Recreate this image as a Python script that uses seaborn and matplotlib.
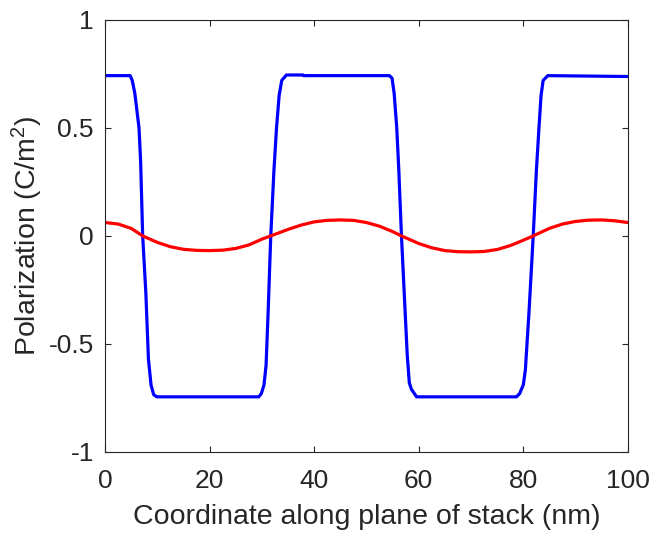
import matplotlib
matplotlib.use("Agg")
import matplotlib.pyplot as plt
import seaborn as sns
import pandas as pd

# Blue curve: polarization of the ferroelectric layer (C/m^2) along the stack
x_fe = [0, 4.8, 5.2, 5.7, 6.5, 6.8, 7.2, 7.8, 8.3, 8.8, 9.3, 9.9,
        29.4, 29.9, 30.4, 30.8, 31.2, 31.7, 32.3, 32.8, 33.3, 33.8, 34.7,
        37.9, 38.0,
        54.4, 54.9, 55.3, 55.8, 56.2, 56.7, 57.3, 57.8, 58.2, 58.6, 59.6,
        78.7, 79.3, 80.0, 80.4, 81.1, 81.9, 82.5, 83.0, 83.4, 83.8, 84.7,
        100]
p_fe = [0.742, 0.742, 0.72, 0.66, 0.50, 0.35, 0.0, -0.26, -0.57, -0.69, -0.735, -0.745,
        -0.745, -0.73, -0.69, -0.60, -0.35, 0.0, 0.30, 0.50, 0.65, 0.72, 0.745,
        0.745, 0.742,
        0.742, 0.73, 0.66, 0.50, 0.30, 0.0, -0.30, -0.55, -0.68, -0.71, -0.745,
        -0.745, -0.73, -0.69, -0.62, -0.35, 0.0, 0.30, 0.50, 0.65, 0.72, 0.742,
        0.738]

# Red curve: polarization of the dielectric layer (C/m^2)
x_de = [0, 2.5, 5, 7.2, 10, 12.5, 15, 17.5, 20, 22.5, 25, 27.5, 30, 31.7,
        35, 37.5, 40, 42.5, 45, 47.5, 50, 52.5, 55, 56.7, 60, 62.5, 65,
        67.5, 70, 72.5, 75, 77.5, 80, 81.9, 85, 87.5, 90, 92.5, 95, 97.5, 100]
p_de = [0.062, 0.055, 0.035, 0.0, -0.03, -0.05, -0.062, -0.067, -0.068, -0.066,
        -0.058, -0.042, -0.015, 0.0, 0.03, 0.05, 0.065, 0.072, 0.074, 0.072,
        0.062, 0.045, 0.02, 0.0, -0.035, -0.055, -0.068, -0.073, -0.074, -0.072,
        -0.063, -0.045, -0.02, 0.0, 0.035, 0.055, 0.067, 0.073, 0.074, 0.07, 0.062]

x_ticks = [0, 20, 40, 60, 80, 100]
x_tick_labels = ["0", "20", "40", "60", "80", "100"]
y_ticks = [-1, -0.5, 0, 0.5, 1]
y_tick_labels = ["-1", "-0.5", "0", "0.5", "1"]

sns.set_style("ticks")
plt.rcParams["font.family"] = ["Liberation Sans", "DejaVu Sans"]
plt.rcParams["mathtext.fontset"] = "custom"
plt.rcParams["mathtext.rm"] = "Liberation Sans"
plt.rcParams["mathtext.it"] = "Liberation Sans"
plt.rcParams["axes.unicode_minus"] = False

text_color = "#262626"

fig = plt.figure(figsize=(6.54, 5.38), dpi=100)
ax = fig.add_axes([0.1606, 0.160, 0.7994, 0.803])

df_fe = pd.DataFrame({"x": x_fe, "p": p_fe})
df_de = pd.DataFrame({"x": x_de, "p": p_de})
sns.lineplot(data=df_fe, x="x", y="p", ax=ax, color="#0000ff", linewidth=2.3,
             sort=False, estimator=None)
sns.lineplot(data=df_de, x="x", y="p", ax=ax, color="#ff0000", linewidth=2.3,
             sort=False, estimator=None)

ax.set_xlim(0, 100)
ax.set_ylim(-1, 1)
ax.set_xticks(x_ticks)
ax.set_xticklabels(x_tick_labels)
ax.set_yticks(y_ticks)
ax.set_yticklabels(y_tick_labels)
ax.tick_params(direction="in", top=True, right=True, length=4, width=0.8,
               labelsize=19, colors=text_color)
ax.tick_params(axis="x", pad=12)
ax.tick_params(axis="y", pad=8)
for s in ax.spines.values():
    s.set_visible(True)
    s.set_color(text_color)
    s.set_linewidth(0.8)

ax.set_xlabel("Coordinate along plane of stack (nm)", fontsize=20.5,
              color=text_color, labelpad=8)
ax.set_ylabel("Polarization (C/m$^2$)", fontsize=20.5, color=text_color, labelpad=3)

fig.savefig("out.png", dpi=100)
